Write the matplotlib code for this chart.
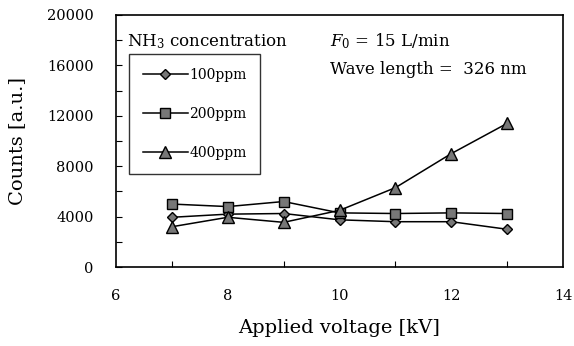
import matplotlib
matplotlib.use('Agg')
import matplotlib.pyplot as plt
from matplotlib.ticker import MultipleLocator

plt.rcParams['font.family'] = ['DejaVu Serif']
plt.rcParams['mathtext.fontset'] = 'dejavuserif'

# data
voltage = [7, 8, 9, 10, 11, 12, 13]
counts_100 = [3950, 4200, 4250, 3750, 3600, 3600, 3000]
counts_200 = [5000, 4800, 5200, 4300, 4250, 4300, 4250]
counts_400 = [3200, 3950, 3550, 4500, 6300, 9000, 11400]

series = [
    ('100ppm', counts_100, 'D', 5.5),
    ('200ppm', counts_200, 's', 7),
    ('400ppm', counts_400, '^', 8),
]

fig = plt.figure(figsize=(5.74, 3.46), dpi=100)
ax = fig.add_axes([0.202, 0.228, 0.779, 0.729])

handles = []
for label, vals, mk, ms in series:
    h, = ax.plot(voltage, vals, color='black', lw=1.1, marker=mk, markersize=ms,
                 markerfacecolor='#777777', markeredgecolor='black', markeredgewidth=1.0,
                 label=label)
    handles.append(h)

ax.set_xlim(6, 14)
ax.set_ylim(0, 20000)
ax.xaxis.set_major_locator(MultipleLocator(2))
ax.xaxis.set_minor_locator(MultipleLocator(1))
ax.yaxis.set_major_locator(MultipleLocator(4000))
ax.yaxis.set_minor_locator(MultipleLocator(2000))
ax.tick_params(which='both', direction='in', labelsize=10.5, length=4, width=0.8)
ax.tick_params(axis='x', which='major', length=0, pad=16)
ax.tick_params(axis='x', which='minor', length=4)
ax.tick_params(axis='y', which='major', pad=16)
for spine in ax.spines.values():
    spine.set_linewidth(1.2)

ax.set_xlabel('Applied voltage [kV]', fontsize=14, labelpad=11)
ax.set_ylabel('Counts [a.u.]', fontsize=14, labelpad=15)

leg = ax.legend(handles=handles, loc='upper left', bbox_to_anchor=(0.03, 0.845),
                frameon=True, fancybox=False, edgecolor='black', fontsize=10,
                handlelength=3.2, handletextpad=0.1, labelspacing=1.8,
                borderpad=1.0, borderaxespad=0)
leg.get_frame().set_linewidth(1.0)

ax.text(0.025, 0.895, 'NH$_3$ concentration', transform=ax.transAxes,
        fontsize=12, va='center', ha='left')
ax.text(0.478, 0.895, '$F_0$ = 15 L/min', transform=ax.transAxes,
        fontsize=12, va='center', ha='left')
ax.text(0.478, 0.785, 'Wave length =  326 nm', transform=ax.transAxes,
        fontsize=12, va='center', ha='left')

fig.savefig('out.png', dpi=100)
